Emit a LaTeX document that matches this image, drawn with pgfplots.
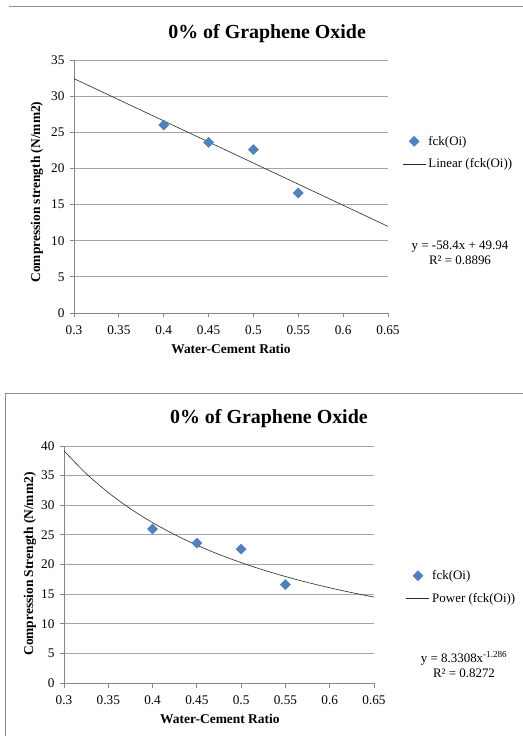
\documentclass[border=0pt]{standalone}
\usepackage{fontspec}
\setmainfont{Liberation Serif}
\usepackage{pgfplots}
\pgfplotsset{compat=1.18}

\definecolor{ptblue}{HTML}{4F81BD}
\definecolor{gridgray}{HTML}{A6A6A6}
\definecolor{axgray}{HTML}{868686}
\definecolor{framegray}{HTML}{8C8C8C}

\newcommand{\txt}{\fontsize{13}{15}\selectfont}

\pgfplotsset{
  every axis title shift=0pt,
  excel/.style={
    scale only axis,
    axis lines=left,
    axis line style={-, draw=axgray, line width=0.8bp},
    xmin=0.3, xmax=0.65, ymin=0,
    xtick={0.3,0.35,0.4,0.45,0.5,0.55,0.6,0.65},
    scaled x ticks=false,
    xticklabel style={/pgf/number format/fixed, yshift=-5bp},
    yticklabel style={xshift=-1.5bp},
    /pgf/number format/assume math mode=true,
    tick align=outside,
    major tick length=4.5bp,
    tick style={draw=axgray, line width=0.8bp},
    ymajorgrids=true,
    grid style={draw=gridgray, line width=0.8bp},
    ticklabel style={font=\fontsize{13.3}{15}\selectfont},
    title style={font=\fontsize{20}{22}\selectfont\bfseries},
    label style={font=\fontsize{13.5}{15}\selectfont\bfseries, anchor=center},
    legend cell align=left,
    legend style={draw=none, fill=none, inner sep=0pt, font=\txt,
                  row sep=7bp, anchor=west, nodes={inner sep=2.5bp}},
    legend image code/.code={\draw[mark repeat=2,mark phase=2]
      plot coordinates {(0bp,0bp)(11.5bp,0bp)(23bp,0bp)};},
  },
  pts/.style={only marks, mark=square*, mark size=3.6bp,
              mark options={rotate=45, fill=ptblue, draw=ptblue}},
  trend/.style={no marks, draw=black!85, line width=0.6bp},
}

\begin{document}
\begin{tikzpicture}
\useasboundingbox (0,0) rectangle (523bp,736bp);

% frame lines of the two pasted charts
\draw[framegray, line width=1bp] (9bp,729bp) -- (523bp,729bp);
\draw[framegray, line width=1bp] (5bp,0bp) -- (5bp,342bp) -- (523bp,342bp);

% ---- top chart: linear trend
\begin{axis}[excel,
    at={(74bp,423bp)}, anchor=south west,
    width=314bp, height=253bp,
    ymax=35, ytick={0,5,...,35},
    title={0\% of Graphene Oxide},
    title style={at={(0.615,1.103)}, anchor=center},
    xlabel={Water-Cement Ratio},
    xlabel style={at={(0.5,-0.142)}},
    ylabel={Compression strength (N/mm2)},
    ylabel style={at={(-0.118,0.478)}},
    legend style={at={(1.045,0.634)}},
  ]
  \addplot[pts] coordinates {(0.4,26.0) (0.45,23.6) (0.5,22.6) (0.55,16.6)};
  \addlegendentry{fck(Oi)}
  \addplot[trend] coordinates {(0.3,32.42) (0.65,11.98)};
  \addlegendentry{Linear (fck(Oi))}
\end{axis}
\node[align=center, font=\txt, inner sep=0pt] at (460bp,483bp)
  {y = -58.4x + 49.94\\R² = 0.8896};

% ---- bottom chart: power trend
\begin{axis}[excel,
    at={(64bp,53bp)}, anchor=south west,
    width=310bp, height=237bp,
    ymax=40, ytick={0,5,...,40},
    title={0\% of Graphene Oxide},
    title style={at={(0.661,1.116)}, anchor=center},
    xlabel={Water-Cement Ratio},
    xlabel style={at={(0.503,-0.152)}},
    ylabel={Compression Strength (N/mm2)},
    ylabel style={at={(-0.110,0.502)}},
    legend style={at={(1.103,0.405)}},
  ]
  \addplot[pts] coordinates {(0.4,26.0) (0.45,23.6) (0.5,22.6) (0.55,16.6)};
  \addlegendentry{fck(Oi)}
  \addplot[trend, smooth] coordinates {
    (0.300,39.18) (0.325,35.35) (0.350,32.14) (0.375,29.41)
    (0.400,27.07) (0.425,25.04) (0.450,23.26) (0.475,21.70)
    (0.500,20.32) (0.525,19.08) (0.550,17.97) (0.575,16.97)
    (0.600,16.07) (0.625,15.25) (0.650,14.50)};
  \addlegendentry{Power (fck(Oi))}
\end{axis}
\node[align=center, font=\txt, inner sep=0pt] at (464bp,71.5bp)
  {y = 8.3308x\textsuperscript{-1.286}\\R² = 0.8272};
\end{tikzpicture}
\end{document}
